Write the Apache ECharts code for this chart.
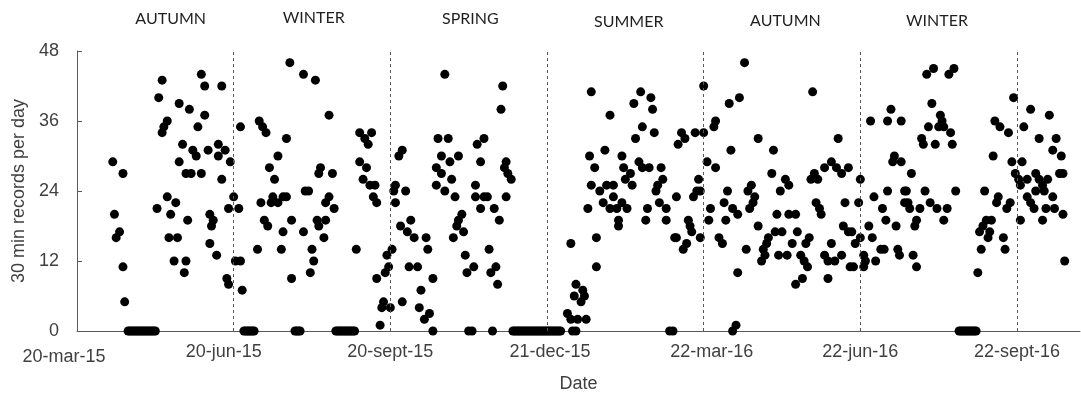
<!DOCTYPE html>
<html>
<head>
<meta charset="utf-8">
<script src="https://cdn.jsdelivr.net/npm/echarts@6/dist/echarts.min.js"></script>
<style>
  html, body { margin: 0; padding: 0; background: #ffffff; }
  #chart { width: 1081px; height: 393px; }
</style>
</head>
<body>
<div id="chart"></div>
<script>
// Day offsets are counted from 20-mar-15; every season spans 92 days.
const tickLabels = ['20-mar-15', '20-jun-15', '20-sept-15', '21-dec-15', '22-mar-16', '22-jun-16', '22-sept-16'];
const seasonBoundaries = [92, 184, 276, 368, 460, 552];
const seasonNames = ['AUTUMN', 'WINTER', 'SPRING', 'SUMMER', 'AUTUMN', 'WINTER'];
const seasonLabelDays = [55, 139, 231, 324, 416, 505];
const yTicks = [0, 12, 24, 36, 48];

// [day offset, 30 min records per day]
const autumn2015 = [
  [21,29],[22,20],[23,16],[25,17],[27,27],[27,11],[28,5],
  [30,0],[31,0],[32,0],[33,0],[34,0],[35,0],[36,0],[37,0],[38,0],[39,0],[40,0],[41,0],[42,0],[43,0],[44,0],[45,0],[46,0],
  [47,21],[48,40],[50,43],[50,34],[51,35],[53,36],[53,23],[54,16],[55,20],[57,12],[58,22],[59,16],[60,39],[60,29],
  [62,32],[63,10],[64,12],[64,27],[65,19],[66,38],[67,27],[68,31],[70,30],[71,35],[73,27],[73,44],[75,42],[75,37],
  [77,31],[78,20],[78,15],[79,18],[80,19],[82,13],[83,32],[83,30],[85,42],[85,26],[87,31],[88,9],[89,8],[89,21],[90,29]
];
const winter2015 = [
  [92,23],[93,12],[95,21],[96,12],[96,35],[97,7],
  [98,0],[99,0],[100,0],[101,0],[102,0],[103,0],[104,0],
  [106,14],[107,36],[108,22],[109,35],[110,19],[111,34],[112,18],[113,28],[114,22],[115,23],[116,26],[118,30],[118,22],
  [120,14],[121,23],[121,17],[123,33],[123,23],[125,46],[126,19],[126,9],
  [128,0],[129,0],[130,0],[131,0],
  [133,44],[133,17],[134,24],[136,24],[137,10],[138,14],[139,12],[140,43],[141,19],[142,27],[142,18],[143,28],
  [145,16],[146,22],[146,19],[148,37],[148,23],[150,27],[151,21],
  [152,0],[153,0],[154,0],[155,0],[156,0],[157,0],[158,0],[159,0],[160,0],[161,0],[162,0],[163,0],
  [164,14],[166,34],[166,29],[168,26],[169,33],[170,28],[171,32],[172,25],[173,34],[174,23],[175,25],[176,22],[176,9],
  [178,1],[179,4],[180,5],[181,10],[182,13],[183,11]
];
const spring2015 = [
  [184,4],[185,14],[186,24],[187,25],[187,22],[189,30],[190,18],[191,31],[191,5],[193,24],[194,17],[195,11],[196,19],
  [198,16],[200,11],[201,4],[202,7],[204,2],[205,16],[206,14],[207,3],[209,9],[209,0],[211,28],[211,25],[212,33],
  [214,30],[214,27],[216,44],[216,24],[218,33],[219,29],[220,26],[221,16],[222,23],[223,18],[224,30],[224,19],
  [226,20],[227,17],[228,13],[229,10],[230,0],[232,0],[233,11],[234,25],[234,23],[235,32],[237,29],[237,21],
  [239,33],[239,23],[241,23],[242,14],[243,10],[244,0],[245,21],[246,11],[247,8],[248,19],[249,38],[250,42],
  [251,28],[252,29],[252,23],[253,27],[255,26],
  [256,0],[257,0],[258,0],[259,0],[260,0],[261,0],[262,0],[263,0],[264,0],[265,0],[266,0],[267,0],[268,0],[269,0],
  [270,0],[271,0],[272,0],[273,0],[274,0],[275,0]
];
const summer2016 = [
  [276,0],[277,0],[278,0],[279,0],[280,0],[281,0],[282,0],[283,0],[284,0],
  [288,3],[290,15],[290,2],[291,0],[292,6],[293,8],[293,0],[294,2],[296,5],[297,7],[298,6],[299,2],[300,21],[301,30],
  [302,41],[302,25],[304,28],[305,11],[305,16],[307,24],[309,22],[310,31],[311,25],[313,37],[313,21],[315,25],[315,23],
  [317,21],[318,19],[318,18],[320,30],[320,22],[321,28],[322,26],[323,21],[325,27],[326,25],[327,39],[328,33],[330,29],
  [331,41],[332,35],[332,28],[334,19],[335,21],[336,28],[337,40],[338,38],[339,34],[340,24],[341,25],[342,22],[343,28],
  [344,26],[346,21],[346,19],[348,0],[350,0],[351,16],[352,23],[352,16],[353,32],[355,34],[356,14],[357,33],[358,15],
  [359,19],[360,18],[361,17],[362,23],[363,34],[364,24],[365,26],[366,24],[366,16]
];
const autumn2016 = [
  [368,34],[368,42],[370,29],[371,19],[372,21],[374,35],[375,36],[375,28],[377,16],[379,15],[380,22],[381,19],[382,24],
  [383,39],[384,31],[385,21],[385,0],[387,1],[388,10],[388,20],[389,40],[392,46],[393,14],[394,24],[395,21],[396,25],
  [397,22],[398,23],[400,33],[400,18],[402,12],[403,14],[404,13],[405,15],[406,16],[408,27],[409,31],[410,17],[411,20],
  [412,13],[413,24],[414,17],[416,26],[417,13],[418,25],[418,20],[420,15],[422,20],[422,8],[423,17],[425,13],[426,9],
  [427,12],[428,15],[429,11],[430,16],[431,26],[432,41],[433,27],[434,22],[435,26],[436,21],[437,20],[439,28],[439,13],
  [441,12],[441,9],[443,29],[443,15],[445,12],[446,28],[447,33],[449,27],[449,13],[450,18],[451,22],[453,28],[453,17],
  [454,11],[455,17],[456,11],[457,15],[459,22]
];
const winter2016 = [
  [460,26],[460,16],[462,13],[462,11],[463,12],[465,18],[466,36],[467,16],[468,23],[469,12],[472,14],[473,21],[474,14],
  [475,19],[476,24],[476,36],[478,38],[479,29],[480,30],[481,18],[482,14],[483,13],[484,36],[484,29],[486,24],[486,22],
  [487,24],[488,22],[489,21],[490,27],[491,13],[492,18],[493,11],[493,19],[495,21],[496,33],[497,32],[498,24],[499,44],
  [500,35],[501,22],[502,39],[503,45],[504,32],[505,21],[506,35],[507,37],[508,36],[509,35],[509,19],[511,21],[512,44],
  [513,34],[514,32],[515,45],[516,24],
  [518,0],[519,0],[520,0],[521,0],[522,0],[523,0],[524,0],[525,0],[526,0],[527,0],[528,0],
  [529,10],[530,17],[531,14],[532,18],[533,24],[534,19],[535,16],[536,17],[537,19],[538,30],[539,36],[540,22],[541,23],
  [542,35],[544,16],[545,14],[546,21],[547,34],[548,22],[549,29],[550,40],[551,27]
];
const spring2016 = [
  [553,26],[554,25],[554,19],[555,29],[556,35],[558,26],[558,23],[560,38],[560,22],[562,21],[563,27],[563,24],[565,26],
  [565,33],[567,25],[567,19],[568,24],[569,21],[570,26],[571,37],[573,31],[573,23],[574,21],[575,33],[577,27],[578,30],
  [579,27],[579,20],[580,12]
];

const records = [].concat(autumn2015, winter2015, spring2015, summer2016, autumn2016, winter2016, spring2016);

const SANS = "'Liberation Sans', Arial, sans-serif";
const SEASON_FONT = "Lato, 'Open Sans', sans-serif";
const TEXT = '#404040';
const AXIS = '#595959';
const seasonLabelTop = [19, 18, 18.5, 21.5, 21, 21];

// Per-label nudges for the date labels under the axis (rich padding: top, right, bottom, left).
const dateLabelPadding = [[5, 26, 0, 0], [0, 20, 0, 0], [0, 0, 0, 0], [0, 0, 0, 6], [0, 0, 0, 16], [0, 0, 0, 0], [0, 0, 0, 0]];
const dateRich = {};
dateLabelPadding.forEach(function (p, i) {
  dateRich['d' + i] = { fontFamily: SANS, fontSize: 18, color: TEXT, padding: p };
});

const chart = echarts.init(document.getElementById('chart'), null, { renderer: 'canvas' });

chart.setOption({
  animation: false,
  backgroundColor: '#ffffff',
  grid: { left: 77, right: 1, top: 51, bottom: 62, containLabel: false, outerBoundsMode: 'none' },
  xAxis: {
    type: 'value',
    min: 0,
    max: 589,
    interval: 92,
    name: 'Date',
    nameLocation: 'middle',
    nameGap: 44,
    nameTextStyle: { fontFamily: SANS, fontSize: 18, color: TEXT },
    axisLine: { show: true, onZero: false, lineStyle: { color: AXIS, width: 1 } },
    axisTick: { show: false },
    splitLine: { show: false },
    axisLabel: {
      margin: 12,
      fontFamily: SANS,
      fontSize: 18,
      color: TEXT,
      showMaxLabel: false,
      hideOverlap: false,
      formatter: function (v) {
        if (v % 92 !== 0) return '';
        const i = v / 92;
        const label = tickLabels[i];
        if (!label) return '';
        return '{d' + i + '|' + label + '}';
      },
      rich: dateRich
    }
  },
  yAxis: {
    type: 'value',
    min: yTicks[0],
    max: yTicks[yTicks.length - 1],
    interval: yTicks[1] - yTicks[0],
    name: '30 min records per day',
    nameLocation: 'middle',
    nameGap: 48,
    nameRotate: 90,
    nameTextStyle: { fontFamily: SANS, fontSize: 18, color: TEXT },
    axisLine: { show: true, lineStyle: { color: AXIS, width: 1 } },
    axisTick: { show: true, inside: true, length: 5, lineStyle: { color: AXIS, width: 1 } },
    splitLine: { show: false },
    axisLabel: { margin: 18, fontFamily: SANS, fontSize: 18, color: TEXT }
  },
  series: [{
    type: 'scatter',
    data: records,
    symbol: 'circle',
    symbolSize: 9,
    itemStyle: { color: '#000000', opacity: 1 },
    silent: true,
    markLine: {
      silent: true,
      symbol: ['none', 'none'],
      label: { show: false },
      lineStyle: { color: AXIS, width: 1, type: [3, 3] },
      data: seasonBoundaries.map(function (d) { return { xAxis: d }; })
    }
  }]
});

// Season names above the plot, centred on their day positions.
chart.setOption({
  graphic: seasonNames.map(function (name, i) {
    const px = chart.convertToPixel({ xAxisIndex: 0 }, seasonLabelDays[i]);
    return {
      type: 'text',
      x: px,
      y: seasonLabelTop[i],
      style: {
        text: name,
        font: '16px ' + SEASON_FONT,
        fill: '#1f1f1f',
        align: 'center',
        verticalAlign: 'middle'
      }
    };
  })
});
</script>
</body>
</html>
